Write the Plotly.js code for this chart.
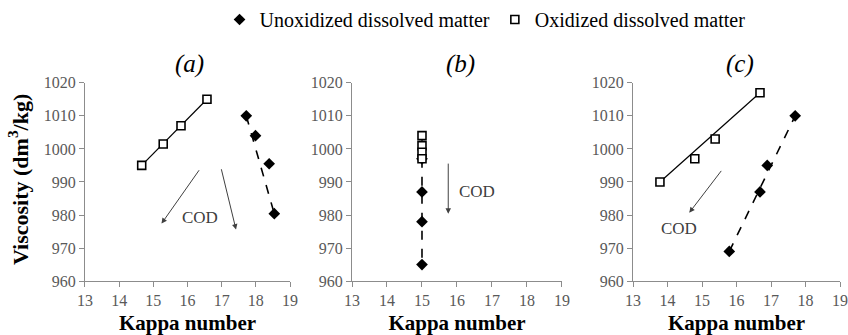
<!DOCTYPE html>
<html>
<head>
<meta charset="utf-8">
<script src="https://cdn.plot.ly/plotly-3.0.1.min.js"></script>
<style>html,body{margin:0;padding:0;background:#fff;}#chart{width:848px;height:335px;}</style>
</head>
<body>
<div id="chart"></div>
<script>
// ---- Data ----
const seriesNames = ["Unoxidized dissolved matter", "Oxidized dissolved matter"];
const panelLabels = ["(a)", "(b)", "(c)"];
const xTickVals = [13, 14, 15, 16, 17, 18, 19];
const yTickVals = [960, 970, 980, 990, 1000, 1010, 1020];

// Panel (a)
const kappaUnoxA = [17.72, 17.99, 18.39, 18.54];
const viscUnoxA  = [1010, 1004, 995.5, 980.4];
const kappaOxA   = [14.66, 15.29, 15.81, 16.57];
const viscOxA    = [995, 1001.5, 1007, 1015];
// Panel (b)
const kappaUnoxB = [15, 15, 15, 15];
const viscUnoxB  = [997, 987, 978, 965];
const kappaOxB   = [15, 15, 15, 15];
const viscOxB    = [1004, 1001, 999, 997];
// Panel (c)
const kappaUnoxC = [15.79, 16.68, 16.89, 17.70];
const viscUnoxC  = [969, 987, 995, 1010];
const kappaOxC   = [13.78, 14.79, 15.38, 16.68];
const viscOxC    = [990, 997, 1003, 1017];

// ---- Build traces ----
const FONT = "Liberation Serif, Times New Roman, serif";
const panels = [
  {xa: "x",  ya: "y",  unx: kappaUnoxA, uny: viscUnoxA, oxx: kappaOxA, oxy: viscOxA},
  {xa: "x2", ya: "y2", unx: kappaUnoxB, uny: viscUnoxB, oxx: kappaOxB, oxy: viscOxB},
  {xa: "x3", ya: "y3", unx: kappaUnoxC, uny: viscUnoxC, oxx: kappaOxC, oxy: viscOxC}
];
function endPoints(xs, ys) {
  const n = xs.length;
  return {x: [xs[0], xs[n - 1]], y: [ys[0], ys[n - 1]]};
}
const traces = [];
panels.forEach((p) => {
  const lu = endPoints(p.unx, p.uny);
  const lo = endPoints(p.oxx, p.oxy);
  traces.push({x: lu.x, y: lu.y, xaxis: p.xa, yaxis: p.ya, mode: "lines", showlegend: false,
    line: {color: "#000", width: 1.6, dash: "dash"}, hoverinfo: "skip"});
  traces.push({x: lo.x, y: lo.y, xaxis: p.xa, yaxis: p.ya, mode: "lines", showlegend: false,
    line: {color: "#000", width: 1.2}, hoverinfo: "skip"});
});
panels.forEach((p, i) => {
  traces.push({x: p.unx, y: p.uny, xaxis: p.xa, yaxis: p.ya, mode: "markers",
    name: seriesNames[0], legendgroup: "un", showlegend: i === 0,
    marker: {symbol: "diamond", size: 9, color: "#000", line: {color: "#000", width: 0}}});
  traces.push({x: p.oxx, y: p.oxy, xaxis: p.xa, yaxis: p.ya, mode: "markers",
    name: seriesNames[1], legendgroup: "ox", showlegend: i === 0,
    marker: {symbol: "square", size: 8, color: "#fff", line: {color: "#000", width: 1.6}}});
});

function xAxis(domain, anchor) {
  return {domain: domain, anchor: anchor, range: [13, 19], tickvals: xTickVals, ticks: "outside", ticklen: 5,
    tickcolor: "#8c8c8c", showline: true, linecolor: "#8c8c8c", linewidth: 1, showgrid: false,
    zeroline: false, fixedrange: true, ticklabeloverflow: "allow",
    tickfont: {family: FONT, size: 16, color: "#595959"},
    title: {text: "Kappa number", font: {family: FONT, size: 21, color: "#000", weight: "bold"}}};
}
function yAxis(domain, anchor) {
  return {domain: domain, anchor: anchor, range: [960, 1020], tickvals: yTickVals, ticks: "outside",
    ticklen: 5, tickcolor: "#8c8c8c", showline: true, linecolor: "#8c8c8c", linewidth: 1,
    showgrid: false, zeroline: false, fixedrange: true, ticklabeloverflow: "allow",
    tickfont: {family: FONT, size: 16, color: "#595959"}};
}
const yDom = [0.1612, 0.7552];
const ann = [];
const panelX = [[0.1002, 0.3420], [0.4151, 0.6627], [0.7465, 0.9906]];
const labelX = [0.224, 0.5425, 0.8726];
panelLabels.forEach((t, i) => {
  ann.push({xref: "paper", yref: "paper", x: labelX[i], y: 0.81, text: t, showarrow: false,
    font: {family: FONT, size: 25, color: "#000", style: "italic"}, xanchor: "center", yanchor: "middle"});
});
// y-axis title shared by the three panels
ann.push({xref: "paper", yref: "paper", x: 0.022, y: 0.466, text: "Viscosity (dm<sup>3</sup>/kg)",
  textangle: -90, showarrow: false, xanchor: "center", yanchor: "middle",
  font: {family: FONT, size: 22, color: "#000", weight: "bold"}});
function arrow(xr, yr, x0, y0, x1, y1) {
  return {xref: xr, yref: yr, axref: xr, ayref: yr, x: x1, y: y1, ax: x0, ay: y0, text: "",
    showarrow: true, arrowhead: 2, arrowsize: 1.1, arrowwidth: 1, arrowcolor: "#404040"};
}
function cod(xr, yr, x, y) {
  return {xref: xr, yref: yr, x: x, y: y, text: "COD", showarrow: false,
    font: {family: FONT, size: 17, color: "#404040"}, xanchor: "center", yanchor: "middle"};
}
ann.push(arrow("x", "y", 16.37, 994.0, 15.24, 977.4));
ann.push(arrow("x", "y", 16.98, 994.3, 17.42, 975.6));
ann.push(cod("x", "y", 16.36, 979.4));
ann.push(arrow("x2", "y2", 15.75, 996, 15.75, 980.4));
ann.push(cod("x2", "y2", 16.56, 987.2));
ann.push(arrow("x3", "y3", 15.59, 993.8, 14.63, 980.7));
ann.push(cod("x3", "y3", 14.33, 976));

const layout = {
  width: 848, height: 335, margin: {l: 0, r: 0, t: 0, b: 0},
  paper_bgcolor: "#fff", plot_bgcolor: "#fff",
  font: {family: FONT, color: "#000"},
  showlegend: true,
  legend: {orientation: "h", x: 0.572, xanchor: "center", y: 0.946, yanchor: "middle",
    font: {family: FONT, size: 20, color: "#000"}, itemwidth: 30, bgcolor: "rgba(0,0,0,0)",
    traceorder: "normal"},
  xaxis: xAxis(panelX[0], "y"), yaxis: yAxis(yDom, "x"),
  xaxis2: xAxis(panelX[1], "y2"), yaxis2: yAxis(yDom, "x2"),
  xaxis3: xAxis(panelX[2], "y3"), yaxis3: yAxis(yDom, "x3"),
  annotations: ann
};
Plotly.newPlot("chart", traces, layout, {displayModeBar: false, staticPlot: true});
</script>
</body>
</html>
